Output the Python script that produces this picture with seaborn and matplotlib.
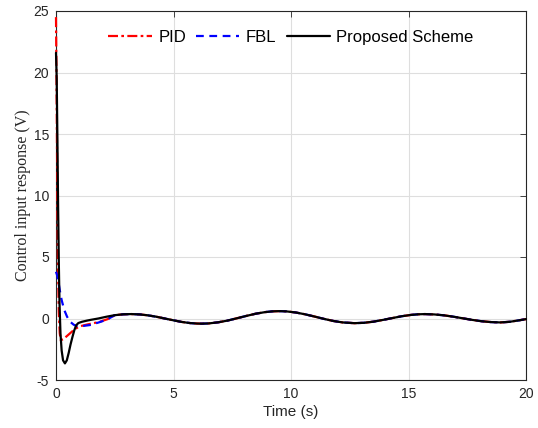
import numpy as np
import pandas as pd
import seaborn as sns
import matplotlib
matplotlib.use("Agg")
import matplotlib.pyplot as plt

# ---------------- data ----------------
tail_t = [2.5, 2.86, 3.2, 3.57, 3.9, 4.28, 4.6, 4.98, 5.35, 5.7, 6.0, 6.2,
          6.5, 6.9, 7.3, 7.7, 8.1, 8.5, 8.9, 9.2, 9.5, 9.8, 10.2, 10.6, 11.0,
          11.4, 11.8, 12.2, 12.7, 13.1, 13.5, 13.9, 14.3, 14.7, 15.1, 15.4,
          15.7, 16.1, 16.5, 16.9, 17.3, 17.7, 18.1, 18.5, 18.9, 19.3, 19.7, 20.0]
tail_y = [0.27, 0.34, 0.36, 0.33, 0.26, 0.14, 0.01, -0.14, -0.28, -0.37, -0.41, -0.42,
          -0.40, -0.31, -0.17, 0.02, 0.21, 0.39, 0.52, 0.58, 0.60, 0.58, 0.49, 0.34, 0.16,
          -0.03, -0.20, -0.32, -0.38, -0.35, -0.26, -0.12, 0.03, 0.18, 0.29, 0.34,
          0.36, 0.33, 0.26, 0.15, 0.02, -0.11, -0.22, -0.29, -0.32, -0.27, -0.15, -0.05]

pid_t = [0, 0.02, 0.05, 0.08, 0.12, 0.16, 0.2, 0.3, 0.45, 0.6, 0.75, 0.88,
         1.05, 1.3, 1.6, 1.87, 2.2]
pid_y = [24.5, 20.0, 12.0, 5.0, 0.5, -1.2, -1.75, -1.7, -1.45, -1.2, -0.95, -0.77,
         -0.62, -0.5, -0.38, -0.26, -0.05]

fbl_t = [0, 0.05, 0.1, 0.17, 0.24, 0.35, 0.47, 0.6, 0.75, 0.88, 1.1, 1.45, 1.8, 2.16]
fbl_y = [3.8, 3.5, 3.0, 2.2, 1.5, 0.7, 0.15, -0.26, -0.5, -0.62, -0.62, -0.53, -0.33, -0.1]

prop_t = [0, 0.03, 0.06, 0.09, 0.12, 0.15, 0.19, 0.24, 0.3, 0.38, 0.46, 0.54,
          0.62, 0.7, 0.78, 0.86, 0.95, 1.1, 1.3, 1.45, 1.8, 2.16]
prop_y = [21.6, 19.5, 14.5, 9.0, 4.5, 1.2, -1.2, -2.6, -3.4, -3.65, -3.4, -2.8,
          -2.1, -1.5, -0.95, -0.55, -0.37, -0.27, -0.18, -0.12, 0.0, 0.15]

series_names = ["PID", "FBL", "Proposed Scheme"]
x_ticks = [0, 5, 10, 15, 20]
y_ticks = [-5, 0, 5, 10, 15, 20, 25]

# ---------------- build table ----------------
frames = []
for name, t, y in [("PID", pid_t, pid_y), ("FBL", fbl_t, fbl_y),
                   ("Proposed Scheme", prop_t, prop_y)]:
    frames.append(pd.DataFrame({"t": list(t) + tail_t, "y": list(y) + tail_y,
                                "series": name}))
df = pd.concat(frames, ignore_index=True)

sns.set_theme(style="white")
plt.rcParams["font.family"] = ["Liberation Sans", "DejaVu Sans"]

fig = plt.figure(figsize=(5.38, 4.28), dpi=100)
ax = fig.add_axes([56 / 538, (428 - 380) / 428, 470 / 538, 369 / 428])

styles = {
    "PID": dict(color="#ff0000", dashes=(4.5, 1.5, 1.2, 1.5)),
    "FBL": dict(color="#0000ff", dashes=(3.5, 2.5)),
    "Proposed Scheme": dict(color="#000000", dashes=None),
}
for name in series_names:
    sub = df[df["series"] == name]
    st = styles[name]
    sns.lineplot(data=sub, x="t", y="y", ax=ax, color=st["color"],
                 linewidth=1.6, sort=False, label=name, estimator=None)
    l = ax.get_lines()[-1]
    l.set_clip_on(False)
    l.set_zorder(3)
    if st["dashes"] is not None:
        l.set_dashes(st["dashes"])

ax.set_xlim(0, 20)
ax.set_ylim(-5, 25)
ax.set_xticks(x_ticks)
ax.set_yticks(y_ticks)
ax.set_xticklabels([str(v) for v in x_ticks], fontsize=10)
ax.set_yticklabels([str(v) for v in y_ticks], fontsize=10)
ax.grid(True, color="#dedede", linewidth=0.8)
ax.set_axisbelow(True)
for sp in ax.spines.values():
    sp.set_color("#262626")
    sp.set_linewidth(0.8)
    sp.set_zorder(2.5)
ax.tick_params(direction="in", length=4, width=0.6, colors="#262626",
               top=True, right=True, labelsize=10, pad=5)

ax.set_xlabel("Time (s)", fontsize=11, color="#262626", labelpad=3)
ax.set_ylabel("Control input response (V)", fontsize=11.5,
              family=["Liberation Serif", "DejaVu Serif"], color="#262626", labelpad=2)

leg = ax.legend(loc="upper center", ncol=3, frameon=False, fontsize=12,
                handlelength=2.6, handletextpad=0.4, columnspacing=0.6,
                bbox_to_anchor=(0.5, 0.99))
for txt in leg.get_texts():
    txt.set_color("#000000")

fig.savefig("out.png", dpi=100)
